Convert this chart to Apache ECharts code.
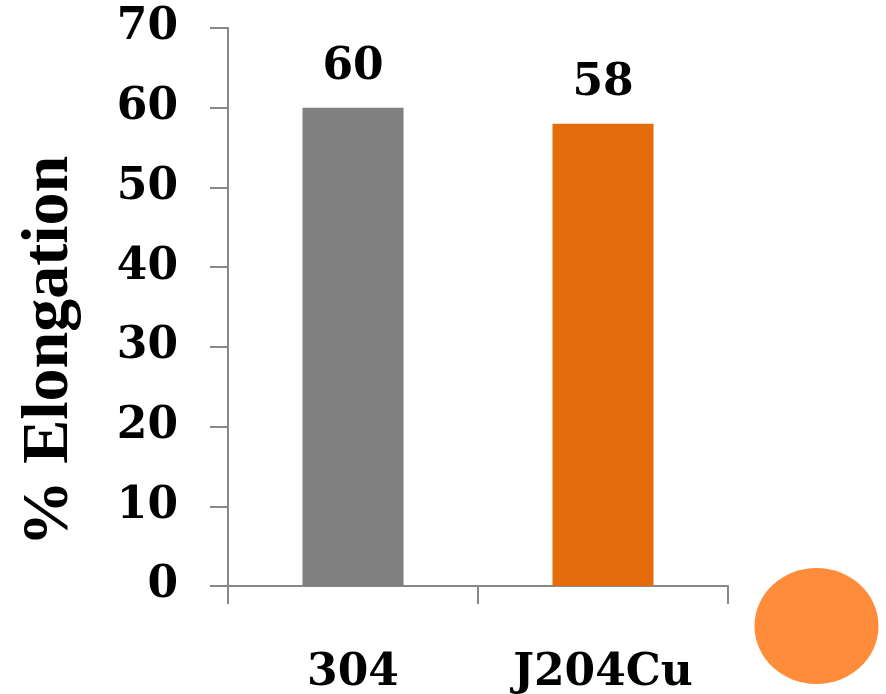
<!DOCTYPE html>
<html>
<head>
<meta charset="utf-8">
<script src="https://cdn.jsdelivr.net/npm/echarts@6/dist/echarts.min.js"></script>
<style>html,body{margin:0;padding:0;background:#fff}#c{width:886px;height:694px}</style>
</head>
<body>
<div id="c"></div>
<script>
const categories = ['304', 'J204Cu'];
const elongation = [60, 58];
const barColors = ['#808080', '#E46C0A'];
const yTicks = {min: 0, max: 70, interval: 10};
const yTitle = '% Elongation';

const FONT = 'DejaVu Serif';
const chart = echarts.init(document.getElementById('c'), null, {renderer: 'canvas'});
chart.setOption({
  backgroundColor: '#ffffff',
  animation: false,
  grid: {left: 228, right: 158, top: 28, bottom: 108, outerBoundsMode: 'none', containLabel: false},
  xAxis: {
    type: 'category',
    data: categories,
    axisLine: {lineStyle: {color: '#888888', width: 2}},
    axisTick: {show: true, length: 18, lineStyle: {color: '#888888', width: 2}, alignWithLabel: false},
    axisLabel: {margin: 66, color: '#000', fontFamily: FONT, fontWeight: 'bold', fontSize: 44}
  },
  yAxis: {
    type: 'value',
    min: yTicks.min, max: yTicks.max, interval: yTicks.interval,
    axisLine: {show: true, lineStyle: {color: '#888888', width: 2}},
    axisTick: {show: true, length: 18, lineStyle: {color: '#888888', width: 2}},
    splitLine: {show: false},
    axisLabel: {margin: 50, color: '#000', fontFamily: FONT, fontWeight: 'bold', fontSize: 44}
  },
  series: [{
    type: 'bar',
    barWidth: 101,
    data: elongation.map((v, i) => ({value: v, itemStyle: {color: barColors[i]}})),
    label: {show: true, position: 'top', distance: 18, color: '#000', fontFamily: FONT, fontWeight: 'bold', fontSize: 44}
  }],
  graphic: [
    {type: 'text', x: 50, y: 351, rotation: Math.PI / 2,
     style: {text: yTitle, fill: '#000', font: 'bold 66px "Liberation Serif"', align: 'center', verticalAlign: 'middle'}},
    {type: 'ellipse', shape: {cx: 816.5, cy: 626, rx: 62, ry: 58}, style: {fill: '#FF8C3A'}}
  ]
});
</script>
</body>
</html>
